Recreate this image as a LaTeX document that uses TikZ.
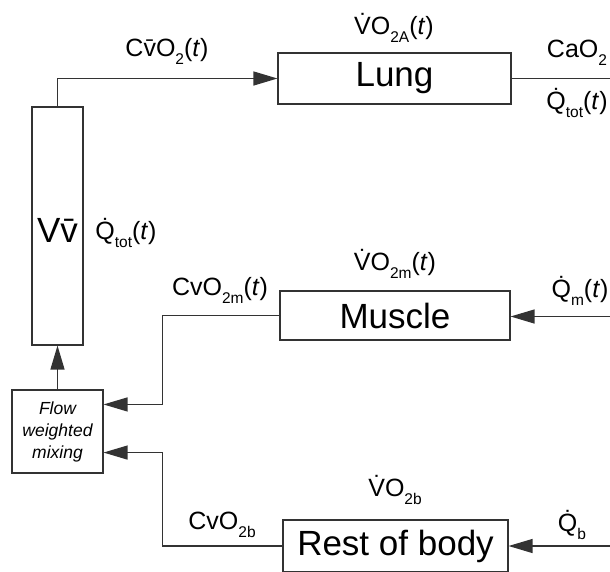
\documentclass[tikz,border=0pt]{standalone}
\usepackage{fontspec}
\setmainfont{Liberation Sans}
\usetikzlibrary{arrows.meta,calc}
\tikzset{
  blk/.style={draw=black!80, line width=1.1pt, inner sep=0pt, font=\fontsize{35}{38}\selectfont},
  lbl/.style={inner sep=0pt, font=\fontsize{25}{28}\selectfont},
  conn/.style={draw=black!80, line width=1.2pt},
  arr/.style={conn, -{Triangle[length=24pt,width=14pt]}}
}
\newcommand{\sbs}[1]{\raisebox{-0.32em}{\fontsize{15.5}{16}\selectfont #1}}
\begin{document}
\begin{tikzpicture}[x=1pt,y=-1pt]
\useasboundingbox (0,0) rectangle (610,571);
\node[blk, minimum width=233pt, minimum height=51pt] (lung) at (394.5,78.5) {Lung};
\node[blk, minimum width=51pt, minimum height=238pt] (vv) at (57.5,226) {};
\node[blk, minimum width=230pt, minimum height=49pt] (mus) at (395,315.5) {Muscle};
\node[blk, minimum width=91pt, minimum height=83pt, align=center, font=\fontsize{17.5}{22}\selectfont\itshape] (mix) at (57.5,431.5) {Flow\\weighted\\mixing};
\node[blk, minimum width=225pt, minimum height=52pt] (rest) at (395.5,546) {Rest of body};
\coordinate (aout) at (610,78.5);
\coordinate (qmin) at (610,316.5);
\coordinate (qbin) at (610,546);
% connectors
\draw[arr] (vv.north) |- (lung.west);
\draw[conn] (lung.east) -- (aout);
\draw[arr] (qmin) -- (mus.east |- qmin);
\draw[arr] (qbin) -- (rest.east);
\draw[arr] (mix.north) -- (vv.south);
\draw[arr] (mus.west) -| ($(mix.north east)+(59,15)$) -- ($(mix.north east)+(0,15)$);
\draw[arr] (rest.west) -| ($(mix.south east)+(59,-21)$) -- ($(mix.south east)+(0,-21)$);
% labels
\node[lbl] (l1) at (167,51) {C\={v}O\sbs{2}(\textit{t})};
\node[lbl] (l2) at (394,28) {\.{V}O\sbs{2A}(\textit{t})};
\node[lbl] (l3) at (577,53) {CaO\sbs{2}};
\node[lbl] (l4) at (577,103) {\.{Q}\sbs{tot}(\textit{t})};
\node[inner sep=0pt, font=\fontsize{35}{38}\selectfont] (l5) at (57.5,230) {V\={v}};
\node[lbl] (l6) at (126,233) {\.{Q}\sbs{tot}(\textit{t})};
\node[lbl] (l7) at (220,290) {CvO\sbs{2m}(\textit{t})};
\node[lbl] (l8) at (395,264) {\.{V}O\sbs{2m}(\textit{t})};
\node[lbl] (l9) at (580,291) {\.{Q}\sbs{m}(\textit{t})};
\node[lbl] (l10) at (222,525) {CvO\sbs{2b}};
\node[lbl] (l11) at (395,490) {\.{V}O\sbs{2b}};
\node[lbl] (l12) at (572,525) {\.{Q}\sbs{b}};
\end{tikzpicture}
\end{document}
